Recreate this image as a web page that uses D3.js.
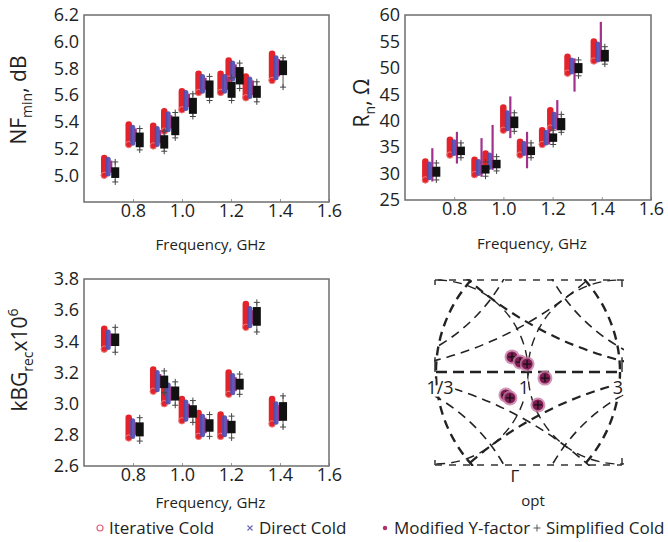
<!DOCTYPE html>
<html><head><meta charset="utf-8">
<script src="https://cdn.jsdelivr.net/npm/d3@7"></script>
<style>body{margin:0;background:#fff;} text{font-family:"Open Sans",sans-serif;fill:#222;}</style>
</head><body>
<svg id="c" width="668" height="542"></svg>
<script>
// ---------- DATA ----------
const freq = [0.705, 0.805, 0.905, 0.95, 1.022, 1.09, 1.18, 1.213, 1.283, 1.39];
const xTicks = [0.8, 1.0, 1.2, 1.4, 1.6];

// NFmin, dB : [low, high] of each estimator's spread
const nfIter   = [[5.00,5.13],[5.23,5.38],[5.22,5.37],[5.33,5.48],[5.49,5.63],[5.62,5.76],[5.62,5.76],[5.72,5.86],[5.58,5.74],[5.71,5.91]];
const nfDirect = [[5.01,5.12],[5.24,5.36],[5.23,5.35],[5.34,5.46],[5.50,5.62],[5.63,5.74],[5.63,5.74],[5.72,5.84],[5.59,5.72],[5.73,5.88]];
const nfModY   = [[5.02,5.11],[5.25,5.35],[5.24,5.34],[5.35,5.45],[5.51,5.61],[5.64,5.73],[5.64,5.73],[5.73,5.83],[5.60,5.71],[5.74,5.87]];
const nfSimp   = [[4.98,5.06],[5.21,5.32],[5.20,5.30],[5.30,5.44],[5.46,5.58],[5.58,5.71],[5.58,5.70],[5.68,5.81],[5.58,5.67],[5.75,5.86]];
const nfSimpX  = [[4.95,5.10],[5.19,5.35],[5.18,5.33],[5.28,5.47],[5.44,5.61],[5.56,5.74],[5.56,5.73],[5.65,5.84],[5.55,5.70],[5.66,5.88]];
const nfTicks  = [5.0, 5.2, 5.4, 5.6, 5.8, 6.0, 6.2];

// Rn, Ohm
const rnIter   = [[28.8,32.3],[33.5,36.4],[29.8,32.6],[31.0,33.8],[38.2,42.5],[33.5,36.0],[35.5,38.2],[38.6,42.0],[49.0,52.1],[51.3,55.0]];
const rnDirect = [[29.2,31.8],[33.8,36.0],[30.0,32.3],[31.2,33.5],[38.5,41.5],[33.8,35.7],[35.8,37.8],[38.8,41.2],[49.2,51.5],[51.5,54.5]];
const rnModY   = [[28.5,34.8],[31.9,37.9],[29.4,36.7],[30.7,39.2],[36.7,44.6],[31.0,37.9],[35.5,38.5],[38.2,43.9],[45.5,51.8],[51.2,58.7]];
const rnSimp   = [[29.4,31.3],[33.5,35.1],[30.0,31.6],[31.0,32.6],[38.6,40.8],[33.5,35.1],[36.0,37.6],[38.2,40.5],[49.0,50.9],[51.2,53.4]];
const rnSimpX  = [[28.8,32.0],[33.0,35.8],[29.5,32.2],[30.5,33.2],[38.0,41.5],[33.0,35.8],[35.5,38.2],[37.8,41.2],[48.5,51.5],[50.7,54.0]];
const rnTicks  = [25, 30, 35, 40, 45, 50, 55, 60];

// kBGrec x10^6
const kIter   = [[3.35,3.48],[2.78,2.91],[3.08,3.22],[3.00,3.14],[2.89,3.03],[2.79,2.94],[2.79,2.93],[3.06,3.20],[3.49,3.64],[2.87,3.03]];
const kDirect = [[3.36,3.46],[2.79,2.89],[3.09,3.20],[3.01,3.12],[2.90,3.01],[2.80,2.92],[2.80,2.91],[3.07,3.18],[3.50,3.61],[2.88,3.00]];
const kModY   = [[3.37,3.45],[2.80,2.88],[3.10,3.19],[3.02,3.11],[2.91,3.00],[2.81,2.91],[2.81,2.90],[3.08,3.17],[3.51,3.60],[2.89,2.99]];
const kSimp   = [[3.37,3.45],[2.79,2.88],[3.10,3.18],[3.02,3.11],[2.91,2.99],[2.82,2.90],[2.81,2.89],[3.09,3.16],[3.50,3.62],[2.89,3.01]];
const kSimpX  = [[3.33,3.49],[2.76,2.91],[3.07,3.21],[2.99,3.14],[2.88,3.02],[2.79,2.93],[2.78,2.92],[3.06,3.19],[3.46,3.65],[2.85,3.05]];
const kTicks  = [2.6, 2.8, 3.0, 3.2, 3.4, 3.6, 3.8];

// Gamma_opt (Smith chart, reflection coefficient)
const gammaRe = [-0.087, -0.043, -0.005, 0.092, -0.120, -0.098, 0.054];
const gammaIm = [ 0.082,  0.054,  0.043, -0.033, -0.125, -0.141, -0.179];
// Smith chart circles: resistance r, reactance x, conductance g, susceptance b
const smithR = [1/3, 1];
const smithG = [1/3, 1];
const smithX = [0.5, -0.5, 1, -1];
const smithB = [0.5, -0.5, 1, -1];
const smithLabels = ["1/3", "1", "3"];
const smithLabelRe = [-0.5, 0, 0.5];

const legendNames = ["Iterative Cold", "Direct Cold", "Modified Y-factor", "Simplified Cold"];

// ---------- DRAW ----------
const svg = d3.select("#c");
const RED = "#e3232b", BLUE = "#4c4cb2", PURP = "#a0318c", BLK = "#111";

function panel(o) {
  const g = svg.append("g");
  const x = d3.scaleLinear().domain([0.6, 1.6]).range([o.x0, o.x1]);
  const y = d3.scaleLinear().domain(o.yDom).range([o.y1, o.y0]);
  const xa = d3.axisBottom(x).tickValues(xTicks).tickSize(-3).tickFormat(d3.format(".1f")).tickPadding(4);
  const ga = g.append("g").attr("transform", `translate(0,${o.y1})`).call(xa);
  ga.select(".domain").remove();
  ga.selectAll("line").attr("stroke", "#999");
  ga.selectAll("text").attr("font-size", 18).attr("fill", "#222").attr("font-family", "Open Sans").attr("dy", "0.6em");
  const ya = d3.axisLeft(y).tickValues(o.yTicks).tickSize(0).tickFormat(o.fmt).tickPadding(5);
  const gy = g.append("g").attr("transform", `translate(${o.x0},0)`).call(ya);
  gy.select(".domain").remove();
  gy.selectAll("text").attr("font-size", 18).attr("fill", "#222").attr("font-family", "Open Sans");
  g.append("rect").attr("x", o.x0).attr("y", o.y0).attr("width", o.x1 - o.x0).attr("height", o.y1 - o.y0)
    .attr("fill", "none").attr("stroke", "#6e6e6e").attr("stroke-width", 1.5);
  g.append("text").attr("x", (o.x0 + o.x1) / 2 + 4).attr("y", o.y1 + o.titleOff).attr("text-anchor", "middle")
    .attr("font-size", 15).text("Frequency, GHz");
  const t = g.append("text").attr("transform", `translate(${o.tx},${o.ty}) rotate(-90)`)
    .attr("text-anchor", "middle").attr("font-size", 21);
  o.title(t);

  const m = g.append("g");
  const bar = (arr, dx, w, col, op) => m.selectAll(null).data(arr).enter().append("rect")
    .attr("x", (d, i) => x(freq[i]) + dx - w / 2).attr("width", w)
    .attr("y", d => y(d[1]) - w / 2).attr("height", d => y(d[0]) - y(d[1]) + w)
    .attr("rx", w / 2).attr("fill", col).attr("opacity", op);
  bar(o.iter, -5.5, 6.5, RED, 1);
  m.selectAll(null).data(o.iter).enter().append("circle")
    .attr("cx", (d, i) => x(freq[i]) - 5.5).attr("cy", d => y(d[0]))
    .attr("r", 3.2).attr("fill", "none").attr("stroke", "#f07a7a").attr("stroke-width", 1);
  bar(o.direct, -1.5, 5, BLUE, 0.92);
  m.selectAll(null).data(o.mody).enter().append("line")
    .attr("x1", (d, i) => x(freq[i]) + 1.5).attr("x2", (d, i) => x(freq[i]) + 1.5)
    .attr("y1", d => y(d[0])).attr("y2", d => y(d[1]))
    .attr("stroke", PURP).attr("stroke-width", 2.2);
  o.simpX.forEach((d, i) => {
    [d[0], d[1]].forEach(v => {
      const cx = x(freq[i]) + 5.5, cy = y(v);
      m.append("path").attr("d", `M${cx - 3},${cy}H${cx + 3}M${cx},${cy - 3}V${cy + 3}`)
        .attr("stroke", "#444").attr("stroke-width", 1);
    });
    m.append("line").attr("x1", x(freq[i]) + 5.5).attr("x2", x(freq[i]) + 5.5)
      .attr("y1", y(d[0])).attr("y2", y(d[1])).attr("stroke", "#555").attr("stroke-width", 1);
  });
  m.selectAll(null).data(o.simp).enter().append("rect")
    .attr("x", (d, i) => x(freq[i]) + 5.5 - 4).attr("width", 8)
    .attr("y", d => y(d[1])).attr("height", d => y(d[0]) - y(d[1]))
    .attr("fill", BLK);
}

panel({x0: 84, x1: 329, y0: 15, y1: 202, yDom: [4.8, 6.2], yTicks: nfTicks, fmt: d3.format(".1f"), titleOff: 48,
  iter: nfIter, direct: nfDirect, mody: nfModY, simp: nfSimp, simpX: nfSimpX, tx: 26, ty: 100,
  title: t => { t.append("tspan").text("NF"); t.append("tspan").attr("font-size", 14).attr("dy", 6).text("min");
                t.append("tspan").attr("dy", -6).text(", dB"); }});
panel({x0: 405, x1: 651, y0: 15, y1: 200, yDom: [25, 60], yTicks: rnTicks, fmt: d3.format("d"), titleOff: 49,
  iter: rnIter, direct: rnDirect, mody: rnModY, simp: rnSimp, simpX: rnSimpX, tx: 369, ty: 103,
  title: t => { t.append("tspan").text("R"); t.append("tspan").attr("font-size", 14).attr("dy", 6).text("n");
                t.append("tspan").attr("dy", -6).text(", Ω"); }});
panel({x0: 84, x1: 329, y0: 279, y1: 466, yDom: [2.6, 3.8], yTicks: kTicks, fmt: d3.format(".1f"), titleOff: 42,
  iter: kIter, direct: kDirect, mody: kModY, simp: kSimp, simpX: kSimpX, tx: 27, ty: 360,
  title: t => { t.append("tspan").text("kBG"); t.append("tspan").attr("font-size", 14).attr("dy", 6).text("rec");
                t.append("tspan").attr("dy", -6).text("x10"); t.append("tspan").attr("font-size", 14).attr("dy", -9).text("6"); }});

// ---------- Smith chart ----------
const sx = d3.scaleLinear().domain([-0.5, 0.5]).range([436, 620]);
const sy = d3.scaleLinear().domain([-0.5, 0.5]).range([464, 280]);
const k = sx(1) - sx(0);
svg.append("clipPath").attr("id", "sc").append("rect").attr("x", 434).attr("y", 279).attr("width", 190).attr("height", 187);
const sg = svg.append("g").attr("clip-path", "url(#sc)");
const circ = [];
smithR.forEach(r => circ.push({cx: r / (1 + r), cy: 0, R: 1 / (1 + r), w: r < 1 ? 2.4 : 1.4}));
smithG.forEach(r => circ.push({cx: -r / (1 + r), cy: 0, R: 1 / (1 + r), w: r < 1 ? 2.4 : 1.4}));
smithX.forEach(v => circ.push({cx: 1, cy: 1 / v, R: Math.abs(1 / v), w: Math.abs(v) < 1 ? 2.2 : 1.6}));
smithB.forEach(v => circ.push({cx: -1, cy: 1 / v, R: Math.abs(1 / v), w: 1.6}));
sg.selectAll(null).data(circ).enter().append("circle")
  .attr("cx", d => sx(d.cx)).attr("cy", d => sy(d.cy)).attr("r", d => d.R * k)
  .attr("fill", "none").attr("stroke", "#222").attr("stroke-width", d => d.w).attr("stroke-dasharray", "9,6");
sg.append("line").attr("x1", sx(-0.5)).attr("x2", sx(0.5)).attr("y1", sy(0)).attr("y2", sy(0))
  .attr("stroke", "#222").attr("stroke-width", 2.4).attr("stroke-dasharray", "11,6");
const fr = {x0: 435, x1: 622, y0: 280, y1: 465};
const edge = (x1, y1, x2, y2, dash) => svg.append("line").attr("x1", x1).attr("y1", y1).attr("x2", x2).attr("y2", y2)
  .attr("stroke", "#333").attr("stroke-width", 1.5).attr("stroke-dasharray", dash);
edge(fr.x0, fr.y0, fr.x1, fr.y0, "7,7");
edge(fr.x0, fr.y1, fr.x1, fr.y1, "7,7");
edge(fr.x0, fr.y0, fr.x0, fr.y0 + 5, null);
edge(fr.x1, fr.y0, fr.x1, fr.y0 + 7, null);
edge(fr.x0, fr.y1, fr.x0, fr.y1 - 5, null);
edge(fr.x1, fr.y1, fr.x1, fr.y1 - 7, null);
edge(fr.x0, sy(0.08), fr.x0, sy(0), null);
edge(fr.x1, sy(0.08), fr.x1, sy(0), null);
svg.selectAll(null).data(smithLabels).enter().append("text")
  .attr("x", (d, i) => sx(smithLabelRe[i]) + (i === 0 ? 4 : i === 1 ? -4 : -2)).attr("y", sy(0) + 22)
  .attr("text-anchor", "middle").attr("font-size", 18)
  .attr("stroke", "#fff").attr("stroke-width", 5).attr("paint-order", "stroke").text(d => d);
svg.append("text").attr("x", 515).attr("y", 482).attr("text-anchor", "middle").attr("font-size", 17).text("Γ");
svg.append("text").attr("x", 533).attr("y", 506).attr("text-anchor", "middle").attr("font-size", 15).text("opt");
const gp = svg.append("g");
gammaRe.forEach((re, i) => {
  const px = sx(re), py = sy(gammaIm[i]);
  gp.append("circle").attr("cx", px).attr("cy", py).attr("r", 7.5).attr("fill", "#c77aa4").attr("opacity", 0.8);
  gp.append("circle").attr("cx", px).attr("cy", py).attr("r", 5.5).attr("fill", "#7d1c52");
  gp.append("path").attr("d", `M${px - 4},${py}H${px + 4}M${px},${py - 4}V${py + 4}`).attr("stroke", "#111").attr("stroke-width", 1.3);
});

// ---------- Legend ----------
const leg = svg.append("g");
const lx = [100, 250, 385, 537];
const ly = 528;
leg.append("circle").attr("cx", lx[0]).attr("cy", ly).attr("r", 3).attr("fill", "none").attr("stroke", "#e0607a").attr("stroke-width", 1.2);
leg.append("path").attr("d", `M${lx[1] - 2.5},${ly - 2.5}l5,5M${lx[1] + 2.5},${ly - 2.5}l-5,5`).attr("stroke", "#6a6ab8").attr("stroke-width", 1.2);
leg.append("circle").attr("cx", lx[2]).attr("cy", ly).attr("r", 2.2).attr("fill", "#b0306a");
leg.append("path").attr("d", `M${lx[3] - 3.5},${ly}H${lx[3] + 3.5}M${lx[3]},${ly - 3.5}V${ly + 3.5}`).attr("stroke", "#555").attr("stroke-width", 1);
leg.selectAll(null).data(legendNames).enter().append("text")
  .attr("x", (d, i) => lx[i] + 9).attr("y", ly + 6).attr("font-size", 17).attr("font-family", "Lato").text(d => d);
</script>
</body></html>
